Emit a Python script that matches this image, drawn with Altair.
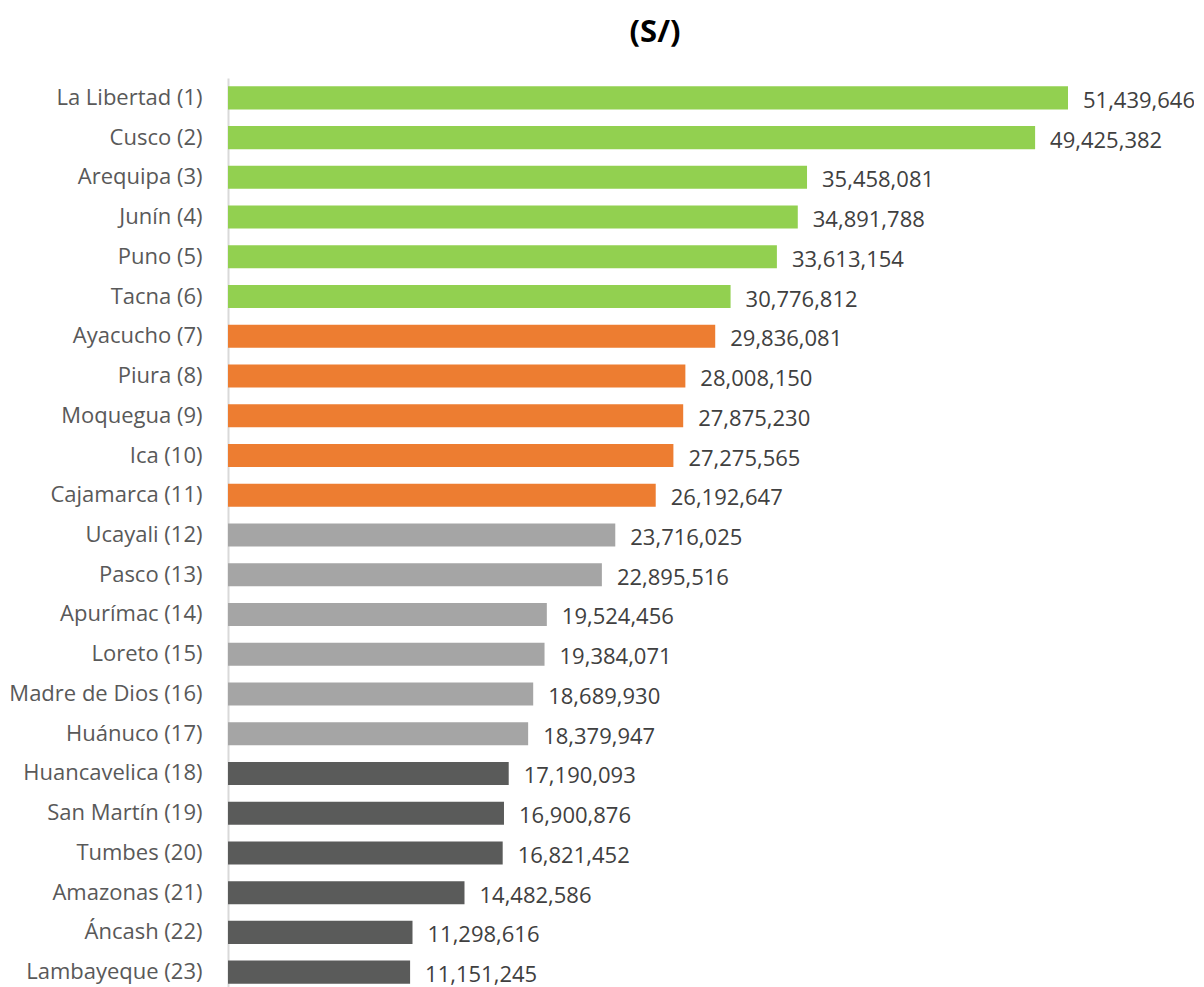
import altair as alt
import pandas as pd

regions = ["La Libertad (1)", "Cusco (2)", "Arequipa (3)", "Junín (4)", "Puno (5)", "Tacna (6)",
           "Ayacucho (7)", "Piura (8)", "Moquegua (9)", "Ica (10)", "Cajamarca (11)",
           "Ucayali (12)", "Pasco (13)", "Apurímac (14)", "Loreto (15)", "Madre de Dios (16)",
           "Huánuco (17)", "Huancavelica (18)", "San Martín (19)", "Tumbes (20)",
           "Amazonas (21)", "Áncash (22)", "Lambayeque (23)"]
values = [51439646, 49425382, 35458081, 34891788, 33613154, 30776812,
          29836081, 28008150, 27875230, 27275565, 26192647,
          23716025, 22895516, 19524456, 19384071, 18689930,
          18379947, 17190093, 16900876, 16821452,
          14482586, 11298616, 11151245]
groups = ["A"] * 6 + ["B"] * 5 + ["C"] * 6 + ["D"] * 6
group_colors = {"A": "#92D050", "B": "#ED7D31", "C": "#A5A5A5", "D": "#5A5B5A"}

df = pd.DataFrame({"region": regions, "value": values, "group": groups})
df["label"] = df["value"].map(lambda v: f"{v:,}")

y = alt.Y("region:N", sort=regions, title=None,
          scale=alt.Scale(paddingInner=0.42, paddingOuter=0.21),
          axis=alt.Axis(labelFont="Open Sans", labelFontSize=22, labelColor="#595959",
                        labelPadding=26, ticks=False, domainColor="#D9D9D9", domainWidth=2,
                        labelLimit=400))
x = alt.X("value:Q", scale=alt.Scale(domain=[0, 52664400], nice=False), axis=None)

bars = alt.Chart(df).mark_bar().encode(
    y=y, x=x,
    color=alt.Color("group:N", scale=alt.Scale(domain=list(group_colors.keys()),
                                              range=list(group_colors.values())), legend=None),
)
text = alt.Chart(df).mark_text(align="left", baseline="middle", dx=15, dy=3,
                               font="Open Sans", fontSize=22, color="#404040").encode(
    y=alt.Y("region:N", sort=regions), x=x, text="label:N")

chart = (bars + text).properties(
    width=860, height=914,
    title=alt.TitleParams("(S/)", font="Open Sans", fontSize=31, fontWeight="bold",
                          color="#000000", anchor="middle", dx=-3, offset=29),
    autosize=alt.AutoSizeParams(type="none"),
    padding={"left": 220, "top": 70, "right": 106, "bottom": 0},
).configure_view(stroke=None)

chart.save("out.html", embed_options={"renderer": "svg", "actions": False})
